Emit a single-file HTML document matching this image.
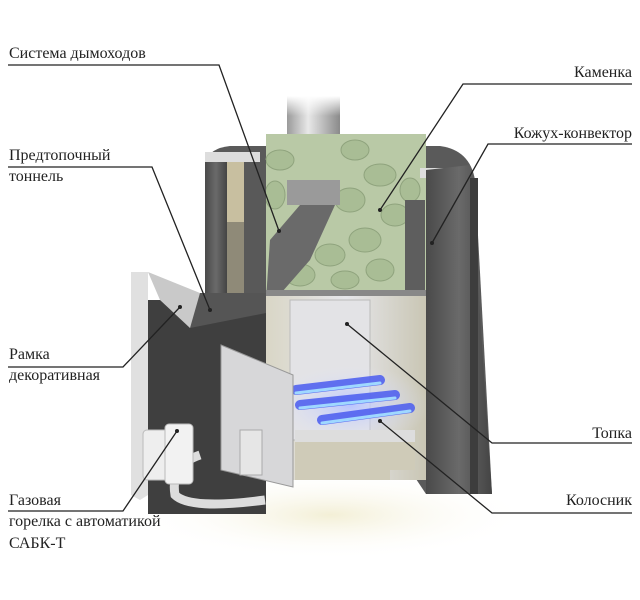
<!DOCTYPE html>
<html><head><meta charset="utf-8"><style>
html,body{margin:0;padding:0;background:#fff;}
svg{display:block}
text{font-family:"Liberation Serif",serif;font-size:16px;fill:#222;}
</style></head><body>
<svg width="640" height="600" viewBox="0 0 640 600" xmlns="http://www.w3.org/2000/svg">
<defs>
<linearGradient id="pipe" x1="0" x2="1"><stop offset="0" stop-color="#9a9a9a"/><stop offset=".4" stop-color="#e8e8e8"/><stop offset="1" stop-color="#8a8a8a"/></linearGradient>
<linearGradient id="pipeTop" x1="0" y1="0" x2="0" y2="1"><stop offset="0" stop-color="#fff"/><stop offset=".5" stop-color="#fff" stop-opacity="0"/></linearGradient>
<linearGradient id="dark" x1="0" x2="1"><stop offset="0" stop-color="#4a4a4a"/><stop offset=".5" stop-color="#6a6a6a"/><stop offset="1" stop-color="#444"/></linearGradient>
<linearGradient id="fire" x1="0" x2="1"><stop offset="0" stop-color="#d9d6c6"/><stop offset=".5" stop-color="#e6e6ea"/><stop offset="1" stop-color="#c9c6b4"/></linearGradient>
<radialGradient id="floor" cx=".5" cy=".5" r=".5"><stop offset="0" stop-color="#f3efd6"/><stop offset="1" stop-color="#fff" stop-opacity="0"/></radialGradient>
<radialGradient id="glow" cx=".5" cy=".5" r=".5"><stop offset="0" stop-color="#b8c4ff"/><stop offset="1" stop-color="#e4e6f0" stop-opacity="0"/></radialGradient>
</defs>
<ellipse cx="330" cy="515" rx="200" ry="45" fill="url(#floor)"/>
<rect x="287" y="96" width="53" height="110" fill="url(#pipe)"/>
<rect x="287" y="96" width="53" height="40" fill="url(#pipeTop)"/>
<path d="M205 162 Q210 148 230 146 L440 146 Q470 150 475 180 L492 494 L426 494 Z" fill="#5a5a5a"/>
<rect x="266" y="134" width="160" height="160" fill="#b9c9a6"/>
<g fill="#a9bd95" stroke="#8fa37d" stroke-width="1">
<ellipse cx="280" cy="160" rx="14" ry="10"/><ellipse cx="355" cy="150" rx="14" ry="10"/><ellipse cx="380" cy="175" rx="16" ry="11"/>
<ellipse cx="350" cy="200" rx="15" ry="12"/><ellipse cx="395" cy="215" rx="14" ry="11"/><ellipse cx="365" cy="240" rx="16" ry="12"/>
<ellipse cx="330" cy="255" rx="15" ry="11"/><ellipse cx="300" cy="275" rx="15" ry="11"/><ellipse cx="380" cy="270" rx="14" ry="11"/>
<ellipse cx="345" cy="280" rx="14" ry="9"/><ellipse cx="410" cy="190" rx="10" ry="12"/><ellipse cx="275" cy="195" rx="10" ry="14"/>
</g>
<rect x="287" y="180" width="53" height="25" fill="#9a9a9a"/>
<path d="M270 240 L300 205 L335 205 L310 260 L275 300 L266 300 Z" fill="#6a6a6a"/>
<rect x="205" y="160" width="22" height="143" fill="url(#dark)"/>
<rect x="227" y="160" width="17" height="143" fill="#8f8a78"/>
<rect x="244" y="160" width="22" height="140" fill="#595959"/>
<rect x="205" y="152" width="55" height="10" fill="#ddd"/>
<rect x="227" y="162" width="17" height="60" fill="#c8bfa0"/>
<rect x="405" y="200" width="20" height="95" fill="#5e5e5e"/>
<rect x="420" y="168" width="50" height="10" fill="#ddd"/>
<rect x="266" y="293" width="160" height="187" fill="url(#fire)"/>
<rect x="266" y="290" width="160" height="6" fill="#888"/>
<rect x="290" y="300" width="80" height="140" fill="#e3e3e6" stroke="#bbb"/>
<ellipse cx="350" cy="405" rx="80" ry="40" fill="url(#glow)"/>
<g stroke="#4a5cf0" stroke-width="10" stroke-linecap="round" opacity=".85">
<line x1="296" y1="390" x2="380" y2="380"/><line x1="300" y1="405" x2="395" y2="395"/><line x1="322" y1="420" x2="410" y2="408"/>
</g>
<g stroke="#9fd8ff" stroke-width="3" stroke-linecap="round">
<line x1="296" y1="393" x2="380" y2="383"/><line x1="300" y1="408" x2="395" y2="398"/><line x1="322" y1="423" x2="410" y2="411"/>
</g>
<rect x="295" y="430" width="120" height="12" fill="#ddd"/>
<path d="M295 442 L415 442 L415 470 L390 470 L390 480 L295 480 Z" fill="#cfcbb8"/>
<path d="M426 170 L470 165 L492 494 L426 494 Z" fill="url(#dark)"/>
<rect x="470" y="178" width="8" height="316" fill="#3d3d3d"/>
<rect x="148" y="300" width="118" height="214" fill="#3f3f3f"/>
<path d="M176 293 L266 293 L266 313 L190 328 Z" fill="#555"/>
<path d="M131 272 L148 272 L148 495 L140 500 L131 495 Z" fill="#e0e0e0"/>
<path d="M148 272 L200 293 L190 328 L160 300 Z" fill="#c9c9c9"/>
<path d="M221 345 L293 375 L293 487 L221 470 Z" fill="#d7d7d9" stroke="#999"/>
<path d="M200 455 Q170 465 175 495 Q190 510 265 500" fill="none" stroke="#ddd" stroke-width="9"/>
<rect x="143" y="430" width="30" height="50" rx="4" fill="#eee" stroke="#bbb"/>
<rect x="165" y="424" width="28" height="60" rx="4" fill="#f2f2f2" stroke="#bbb"/>
<rect x="240" y="430" width="22" height="45" fill="#e6e6e6" stroke="#aaa"/>
<g stroke="#222" stroke-width="1.3" fill="none">
<polyline points="8,65 219,65 279,231"/>
<polyline points="632,84 463,84 380,210"/>
<polyline points="632,144 488,144 432,243"/>
<polyline points="8,167 152,167 210,310"/>
<polyline points="8,367 123,367 180,307"/>
<polyline points="632,443 492,443 347,324"/>
<polyline points="8,511 123,511 177,431"/>
<polyline points="632,513 492,513 380,421"/>
</g>
<g fill="#222">
<circle cx="279" cy="231" r="2"/><circle cx="380" cy="210" r="2"/><circle cx="432" cy="243" r="2"/><circle cx="210" cy="310" r="2"/>
<circle cx="180" cy="307" r="2"/><circle cx="347" cy="324" r="2"/><circle cx="177" cy="431" r="2"/><circle cx="380" cy="421" r="2"/>
</g>
<text x="9" y="58">Система дымоходов</text>
<text x="632" y="77" text-anchor="end">Каменка</text>
<text x="632" y="138" text-anchor="end">Кожух-конвектор</text>
<text x="9" y="160">Предтопочный</text>
<text x="9" y="181">тоннель</text>
<text x="9" y="359">Рамка</text>
<text x="9" y="380">декоративная</text>
<text x="632" y="438" text-anchor="end">Топка</text>
<text x="9" y="505">Газовая</text>
<text x="9" y="526">горелка с автоматикой</text>
<text x="9" y="548">САБК-Т</text>
<text x="632" y="505" text-anchor="end">Колосник</text>
</svg>
</body></html>
